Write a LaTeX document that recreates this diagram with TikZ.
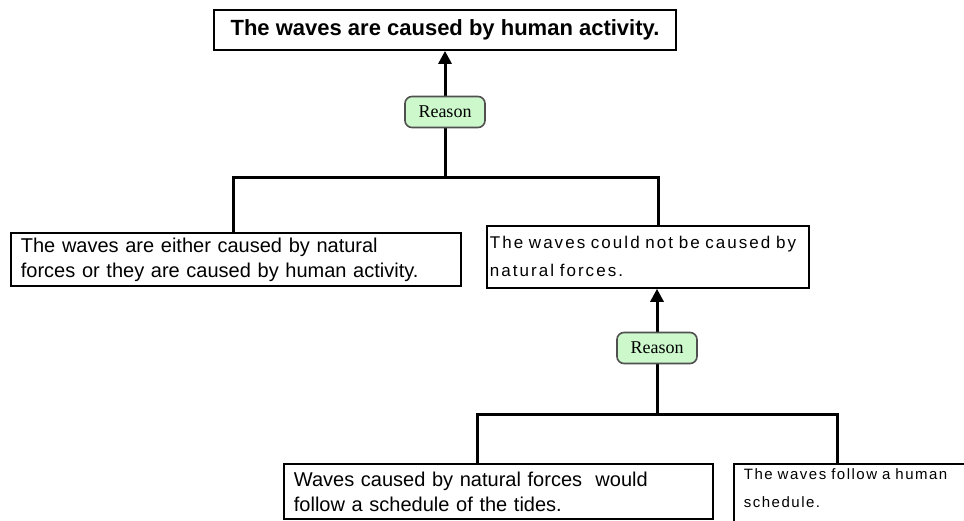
\documentclass[tikz,border=0pt]{standalone}
\usepackage{fontspec}
\setmainfont{Liberation Sans}
\newfontfamily\reasonfont{Liberation Serif}
\usetikzlibrary{arrows.meta}
\definecolor{reasongreen}{RGB}{204,248,204}
\definecolor{reasonedge}{RGB}{80,80,80}
\begin{document}
\begin{tikzpicture}[x=1pt,y=-1pt,
  conn/.style={line width=3pt, black},
  arrowconn/.style={conn, -{Triangle[width=13pt,length=13pt]}},
  claim/.style={draw=black, line width=1.8pt, fill=white, align=left},
  reasonbox/.style={draw=reasonedge, line width=1.6pt, fill=reasongreen, rounded corners=7pt,
    minimum width=80pt, minimum height=31pt, inner sep=0pt,
    font=\reasonfont\fontsize{18}{18}\selectfont},
  bigtext/.style={font=\fontsize{20}{25}\selectfont},
  spacedtext/.style 2 args={font=\fontsize{#1}{28}\selectfont\addfontfeature{LetterSpace=#2}},
]
\useasboundingbox (0,0) rectangle (964,521);
\fill[white] (0,0) rectangle (964,521);

% claims
\node[claim, minimum width=462pt, minimum height=40pt, align=center,
  font=\bfseries\fontsize{22}{26}\selectfont] (top) at (445,30)
  {The waves are caused by human activity.};

\node[claim, bigtext, anchor=north west, minimum height=53pt, text width=430pt, inner xsep=10pt] (L) at (10,232)
  {The waves are either caused by natural\\forces or they are caused by human activity.};

\node[claim, spacedtext={17}{12}, anchor=north west, minimum height=62pt, text width=316pt, inner xsep=3pt] (R) at (486,225)
  {The waves could not be caused by\\natural forces.};

\node[claim, bigtext, anchor=north west, minimum height=55pt, text width=409pt, inner xsep=10pt] (BL) at (283,463)
  {Waves caused by natural forces\ \ would\\follow a schedule of the tides.};

\node[claim, spacedtext={15}{10}, anchor=north west, text width=300pt, inner xsep=10pt, inner ysep=5pt] (BR) at (733,463)
  {The waves follow a human\\schedule.\\\mbox{}};

% first argument
\coordinate (j1) at (445,178);
\coordinate (b1l) at (233,178);
\coordinate (b1r) at (658,178);
\draw[arrowconn] (j1) -- (top.south);
\draw[conn] (b1l |- L.north) -- (b1l) -- (b1r) -- (b1r |- R.north);
\node[reasonbox] (r1) at (445,112) {Reason};

% second argument
\coordinate (j2) at (657,414);
\coordinate (b2l) at (477,414);
\coordinate (b2r) at (837,414);
\draw[arrowconn] (j2) -- (j2 |- R.south);
\draw[conn] (b2l |- BL.north) -- (b2l) -- (b2r) -- (b2r |- BR.north);
\node[reasonbox] (r2) at (657,348) {Reason};
\end{tikzpicture}
\end{document}
